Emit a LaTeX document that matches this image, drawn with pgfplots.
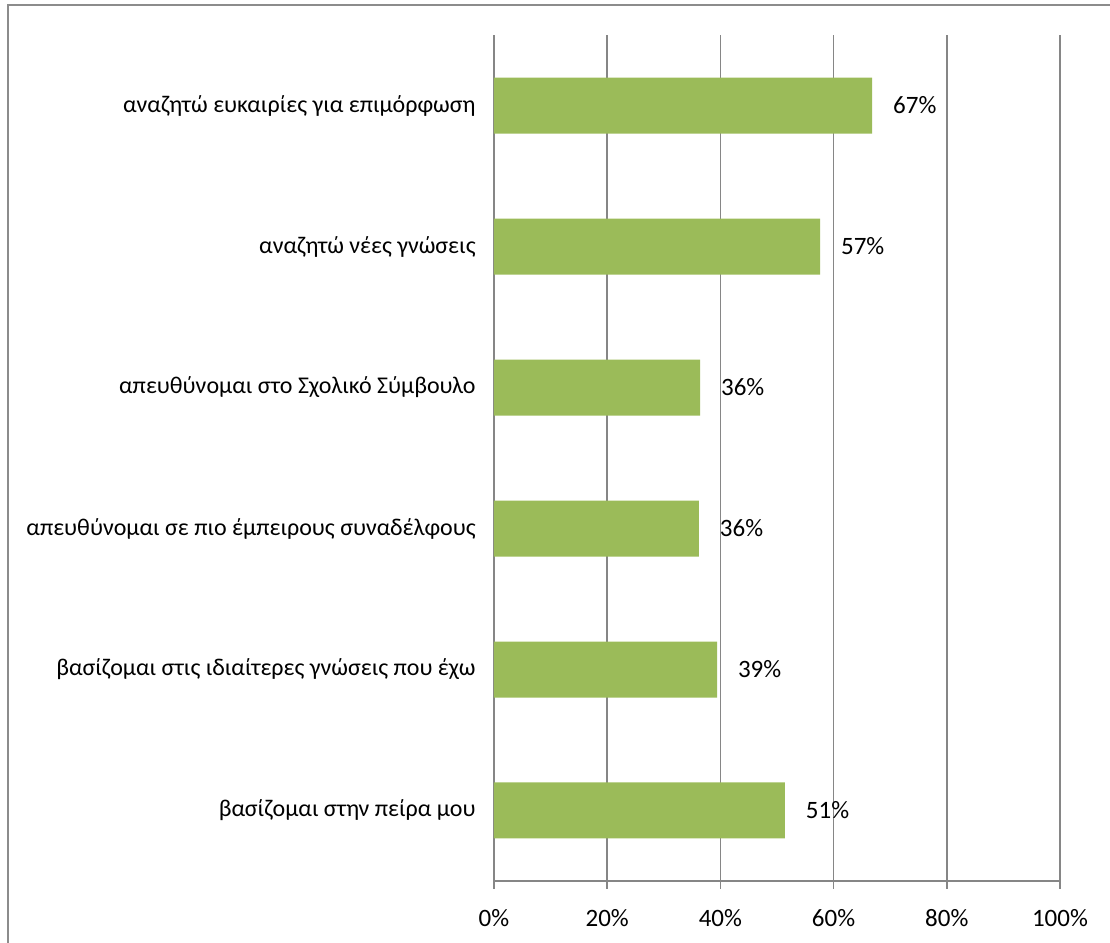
\documentclass[border=0pt]{standalone}
\usepackage{pgfplots}
\pgfplotsset{compat=1.18}
\usepackage{fontspec}
\setmainfont{Carlito}
\definecolor{bargreen}{HTML}{9BBB59}
\definecolor{gridgray}{HTML}{868686}
\definecolor{framegray}{HTML}{8C8C8C}
\begin{document}
\begin{tikzpicture}
\useasboundingbox (0,0) rectangle (555pt,471.5pt);
\draw[framegray, line width=1pt] (4pt,-10pt) rectangle (570pt,469pt);
\begin{axis}[
  at={(247pt,31pt)}, anchor=south west,
  scale only axis, width=283pt, height=423pt,
  xbar, bar width=28pt,
  xmin=0, xmax=100, ymin=-0.5, ymax=5.5,
  axis lines=left,
  axis line style={gridgray, line width=0.8pt, -},
  xtick={0,20,40,60,80,100},
  xticklabels={0\%,20\%,40\%,60\%,80\%,100\%},
  xmajorgrids, grid style={gridgray, line width=0.8pt},
  major x tick style={gridgray, line width=0.8pt},
  xtick align=outside, major tick length=4pt,
  ytick={0,1,2,3,4,5},
  yticklabels={βασίζομαι στην πείρα μου, βασίζομαι στις ιδιαίτερες γνώσεις που έχω, απευθύνομαι σε πιο έμπειρους συναδέλφους, απευθύνομαι στο Σχολικό Σύμβουλο, αναζητώ νέες γνώσεις, αναζητώ ευκαιρίες για επιμόρφωση},
  y tick style={draw=none},
  minor ytick={-0.5,0.5,1.5,2.5,3.5,4.5,5.5},
  minor y tick style={gridgray, line width=0.8pt},
  minor tick length=4pt, ytick align=outside,
  yticklabel style={font=\fontsize{12}{14}\selectfont, inner sep=0pt, xshift=-5pt},
  xticklabel style={font=\fontsize{12.5}{15}\selectfont, inner sep=0pt, yshift=-10pt},
  nodes near coords={\pgfplotspointmeta\%},
  nodes near coords style={font=\fontsize{12.5}{15}\selectfont, anchor=west, xshift=7pt, black},
  point meta=explicit symbolic,
  clip=false,
]
\addplot[fill=bargreen, draw=none] coordinates {
  (51.4,0) [51]
  (39.4,1) [39]
  (36.2,2) [36]
  (36.4,3) [36]
  (57.6,4) [57]
  (66.8,5) [67]
};
\end{axis}
\end{tikzpicture}
\end{document}
